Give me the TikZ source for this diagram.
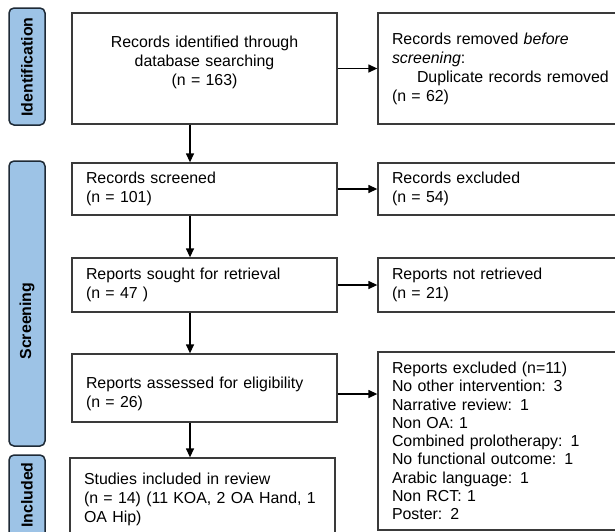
\documentclass[tikz,border=0pt]{standalone}
\usepackage{fontspec}
\setmainfont{Liberation Sans}
\usetikzlibrary{arrows.meta}
\definecolor{cphase}{HTML}{9DC3E6}
\definecolor{cedge}{HTML}{1E2A36}
\definecolor{cline}{HTML}{3A3A3A}
\tikzset{
  every picture/.style={font=\fontsize{15.9}{19}\selectfont, line width=1.3pt},
  box/.style={draw=cline, align=left, inner xsep=14pt, inner ysep=4pt, text width=#1},
  box/.default=237pt,
  phase/.style={draw=cedge, fill=cphase, rounded corners=5pt, line width=1.5pt, minimum width=36pt},
  phasetext/.style={font=\fontsize{15.9}{19}\selectfont\bfseries, rotate=90},
  arrow/.style={-{Triangle[length=9pt, width=8pt]}, draw=black},
}

\begin{document}
\begin{tikzpicture}[x=1pt, y=-1pt]
  \useasboundingbox (0,0) rectangle (615,531);
  \clip (0,0) rectangle (615,531);
  % phases
  \node[phase, minimum height=117pt] (pid) at (27,66.5) {};
  \node[phasetext] (tid) at (27,67) {Identification};
  \node[phase, minimum height=285pt] (pscr) at (27,303.5) {};
  \node[phasetext] (tscr) at (27,321) {Screening};
  \node[phase, minimum height=145pt] (pinc) at (27,527.5) {};
  \node[phasetext] (tinc) at (27,495) {Included};
  % main column
  \node[box, align=center, minimum height=111pt, text height=12pt, text depth=54pt] (b1) at (204.5,68.5) {Records identified through\\database searching\\(n = 163)};
  \node[box, minimum height=52pt] (b3) at (204.5,189) {Records screened\\(n = 101)};
  \node[box, minimum height=54pt] (b5) at (204.5,285) {Reports sought for retrieval\\(n = 47 )};
  \node[box, minimum height=68pt, text height=12pt, text depth=12pt] (b7) at (204.5,388) {Reports assessed for eligibility\\(n = 26)};
  \node[box, minimum height=82pt] (b9) at (202.5,499) {Studies included in review\\(n = 14) (11 KOA, 2 OA Hand, 1\\OA Hip)};
  % side column
  \node[box=254pt, minimum height=111pt] (b2) at (519,68.5) {Records removed \textit{before}\\\textit{screening}:\\\hspace*{25pt}Duplicate records removed\\(n = 62)};
  \node[box=254pt, minimum height=52pt] (b4) at (519,189) {Records excluded\\(n = 54)};
  \node[box=254pt, minimum height=54pt] (b6) at (519,285) {Reports not retrieved\\(n = 21)};
  \node[box=254pt, minimum height=178pt, font=\fontsize{15.9}{18.3}\selectfont] (b8) at (519,441) {Reports excluded (n=11)\\No other intervention: 3\\Narrative review: 1\\Non OA: 1\\Combined prolotherapy: 1\\No functional outcome: 1\\Arabic language: 1\\Non RCT: 1\\Poster: 2};
  % arrows
  \coordinate (spine) at (190,0);
  \foreach \a/\b in {b1/b3, b3/b5, b5/b7, b7/b9}
    \draw[arrow] (\a.south -| spine) -- (\b.north -| spine);
  \foreach \a/\b in {b1/b2, b3/b4, b5/b6}
    \draw[arrow] (\a) -- (\b);
  \draw[arrow] ([yshift=-6pt]b7.east) -- ([yshift=-6pt]b7.east -| b8.west);
\end{tikzpicture}
\end{document}
